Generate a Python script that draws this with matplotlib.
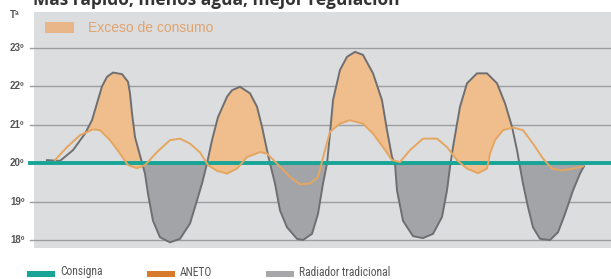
import numpy as np
import matplotlib.pyplot as plt
from matplotlib.patches import Rectangle

# consigna (setpoint)
consigna = 20.0

# radiador tradicional
rad_t = [47, 60, 73, 85, 92, 97, 102, 107, 113, 122, 128, 130, 132, 135, 140, 145, 148, 153,
         160, 170, 180, 190, 197, 202, 207, 212, 218, 227, 232, 240, 250, 257, 262, 267, 270,
         275, 280, 287, 297, 303, 312, 318, 323, 327, 330, 333, 340, 347, 355, 363, 373, 382,
         387, 392, 395, 397, 403, 413, 423, 433, 442, 447, 450, 453, 460, 467, 477, 487, 497,
         505, 512, 517, 520, 523, 528, 533, 540, 550, 558, 565, 573, 580, 584]
rad_v = [20.08, 20.06, 20.34, 20.77, 21.12, 21.56, 22.0, 22.25, 22.36, 22.32, 22.12, 21.82,
         21.3, 20.68, 20.2, 19.73, 19.2, 18.5, 18.07, 17.94, 18.03, 18.43, 19.03, 19.47, 19.99,
         20.6, 21.2, 21.73, 21.9, 21.99, 21.82, 21.47, 20.95, 20.34, 19.99, 19.47, 18.77, 18.33,
         18.03, 18.0, 18.16, 18.68, 19.47, 19.99, 20.77, 21.64, 22.43, 22.77, 22.9, 22.82, 22.34,
         21.64, 20.86, 20.16, 19.99, 19.29, 18.5, 18.1, 18.05, 18.16, 18.6, 19.29, 19.9, 20.42,
         21.47, 22.08, 22.34, 22.34, 22.08, 21.56, 20.95, 20.34, 19.9, 19.47, 18.86, 18.33, 18.03,
         18.0, 18.2, 18.68, 19.29, 19.73, 19.92]

# ANETO
aneto_t = [55, 67, 80, 93, 100, 110, 120, 128, 137, 145, 157, 170, 180, 190, 200, 208, 217,
           227, 237, 247, 260, 267, 277, 290, 300, 310, 318, 325, 330, 340, 350, 363, 373, 383,
           392, 400, 410, 423, 437, 447, 457, 467, 478, 487, 490, 495, 503, 513, 523, 533, 543,
           552, 562, 573, 583]
aneto_v = [20.08, 20.42, 20.73, 20.88, 20.86, 20.6, 20.25, 19.95, 19.87, 19.95, 20.29, 20.6,
           20.64, 20.51, 20.28, 19.95, 19.8, 19.73, 19.86, 20.16, 20.29, 20.25, 19.99, 19.64,
           19.45, 19.47, 19.64, 20.34, 20.82, 21.03, 21.12, 21.03, 20.77, 20.42, 20.08, 20.03,
           20.34, 20.64, 20.64, 20.42, 20.08, 19.86, 19.74, 19.86, 20.25, 20.6, 20.86, 20.93,
           20.86, 20.51, 20.12, 19.86, 19.81, 19.86, 19.92]

yticks = [18, 19, 20, 21, 22, 23]
ytick_labels = ['18º', '19º', '20º', '21º', '22º', '23º']

W, H = 611, 279
fig = plt.figure(figsize=(W / 100, H / 100), dpi=100)
ax = fig.add_axes([34 / W, 31 / H, 577 / W, 236 / H])
ax.set_facecolor('#dcdddf')
for s in ax.spines.values():
    s.set_visible(False)
ax.set_xticks([])
ax.set_yticks([])
ax.set_xlim(34, 611)
ax.set_ylim(18 - 8 / 38.4, 23 + 36 / 38.4)

# grid lines sticking out a bit on the left
for y in yticks:
    if y == consigna:
        continue
    ax.axhline(y, xmin=-4 / 577, xmax=1, color='#9d9d9f', lw=1, clip_on=False, zorder=1)

# fills
tt = np.linspace(rad_t[0], rad_t[-1], 1200)
g = np.interp(tt, rad_t, rad_v)
o = np.interp(tt, aneto_t, aneto_v)
ax.fill_between(tt, g, o, where=(g > o) & (tt >= aneto_t[0]), interpolate=True,
                color='#efbe8c', lw=0, zorder=2)
ax.fill_between(tt, g, consigna, where=g < consigna, interpolate=True,
                color='#a3a4a7', lw=0, zorder=2)

ax.plot(rad_t, rad_v, color='#6f6f72', lw=1.4, zorder=3, solid_joinstyle='round')
ax.axhline(consigna, xmin=-4 / 577, xmax=1, color='#17a597', lw=2.8, clip_on=False, zorder=4)
ax.plot(aneto_t, aneto_v, color='#e4a660', lw=1.4, zorder=5, solid_joinstyle='round')

# y labels
for y, lab in zip(yticks, ytick_labels):
    ax.text(-24 / 577, y, lab, transform=ax.get_yaxis_transform(), ha='left', va='center',
            fontsize=7, color='#555555', fontweight='bold', family='Liberation Sans')
fig.text(10 / W, 1 - 15 / H, 'Tª', fontsize=7, color='#555555', fontweight='bold',
         family='Liberation Sans', va='center')

# legend inside
fig.patches.append(Rectangle((45 / W, 1 - 33 / H), 29 / W, 11 / H, transform=fig.transFigure,
                             color='#e9b689', lw=0))
fig.text(88 / W, 1 - 28 / H, 'Exceso de consumo', fontsize=10, color='#e0a46e',
         family='Liberation Sans', va='center')

# title (cut at top, like the source image)
fig.text(33 / W, 1 - 5 / H, 'Más rápido, menos agua, mejor regulación', fontsize=12.5,
         fontweight='bold', color='#333333', family='Open Sans', va='baseline')

# bottom legend
leg = [('Consigna', '#17a597', 27), ('ANETO', '#d97b2e', 147), ('Radiador tradicional', '#a7a7a9', 266)]
for lab, c, x0 in leg:
    fig.patches.append(Rectangle((x0 / W, 1 - 277 / H), 28 / W, 6 / H, transform=fig.transFigure,
                                 color=c, lw=0))
    fig.text((x0 + 33) / W, 1 - 272 / H, lab, fontsize=8.3, color='#555555',
             family=['Liberation Sans Narrow', 'Roboto Condensed', 'Liberation Sans'], va='center')

fig.savefig('out.png', dpi=100, facecolor='white')
